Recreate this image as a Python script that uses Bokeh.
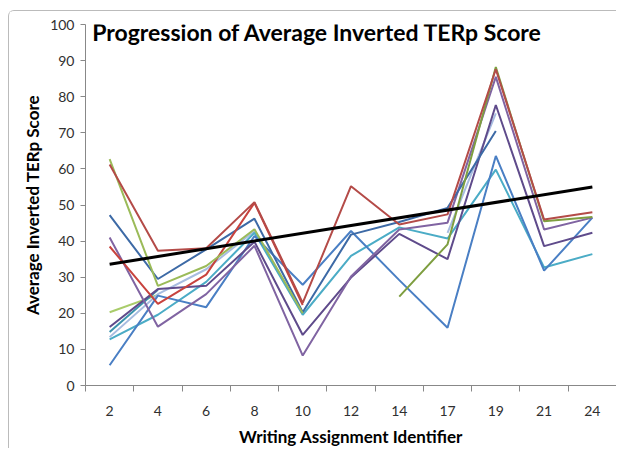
import math
from bokeh.plotting import figure
from bokeh.models import FixedTicker, Label, Range1d
from bokeh.embed import file_html
from bokeh.resources import INLINE

nan = float("nan")

categories = ["2", "4", "6", "8", "10", "12", "14", "17", "19", "21", "24"]

red_dark = [61.2, 37.3, 38.0, 50.8, 22.9, 55.2, 44.6, 47.4, 87.6, 46.0, 48.0]
red = [38.5, 22.6, 30.7, 50.6, 22.3, nan, nan, nan, nan, nan, nan]
green = [62.7, 27.6, 33.1, 43.3, 20.0, nan, nan, nan, nan, nan, nan]
olive = [nan, nan, nan, nan, nan, nan, 24.6, 39.1, 88.2, 45.5, 46.7]
light_green = [20.3, 25.1, nan, nan, nan, nan, nan, nan, nan, nan, nan]
steel = [47.2, 29.5, 37.7, 46.2, 20.3, 41.8, 45.3, 49.2, 70.5, nan, nan]
blue = [5.6, 24.9, 21.7, 41.4, 27.9, 42.8, 29.2, 16.0, 63.6, 31.8, 46.5]
purple = [41.0, 16.3, 25.3, 38.7, 8.3, 30.2, 43.2, 45.1, 85.5, 43.2, 46.5]
dark_purple = [16.2, 26.7, 27.6, 39.8, 14.0, 29.9, 42.0, 35.0, 77.7, 38.6, 42.3]
aqua = [12.8, 19.6, 28.7, 42.3, 19.6, 35.9, 43.8, 40.7, 59.8, 32.7, 36.4]
light_blue = [13.4, 25.3, 32.2, 42.8, 19.8, nan, nan, 42.3, 75.4, nan, nan]
teal = [14.8, 26.5, nan, nan, nan, nan, nan, nan, nan, nan, nan]

trend_start = 33.6
trend_end = 55.0

series = [
    (light_green, "#A9CC6A"),
    (teal, "#3A93AC"),
    (light_blue, "#A7BCE0"),
    (aqua, "#4BACC6"),
    (blue, "#4A7FC4"),
    (dark_purple, "#5F4B8B"),
    (purple, "#8064A2"),
    (steel, "#3D6AA6"),
    (red, "#C8433E"),
    (green, "#9BBB59"),
    (olive, "#7E9E40"),
    (red_dark, "#B44B48"),
]

xs = list(range(1, len(categories) + 1))

p = figure(width=608, height=438, output_backend="svg", toolbar_location=None,
           x_range=Range1d(0.5, len(categories) + 0.5), y_range=Range1d(0, 100),
           min_border_left=76, min_border_right=1, min_border_top=13, min_border_bottom=62)
p.outline_line_color = None
p.xgrid.visible = False
p.ygrid.visible = False
p.background_fill_color = "white"
p.border_fill_color = "white"

for vals, col in series:
    p.line(xs, vals, line_color=col, line_width=2)

p.line([xs[0], xs[-1]], [trend_start, trend_end], line_color="black", line_width=3)

axis_col = "#888888"
font = "Lato"

# x axis
xa = p.xaxis[0]
xa.ticker = FixedTicker(ticks=xs, minor_ticks=[x - 0.5 for x in xs] + [xs[-1] + 0.5])
xa.major_label_overrides = {x: c for x, c in zip(xs, categories)}
xa.major_tick_line_color = None
xa.major_tick_out = 0
xa.major_tick_in = 0
xa.minor_tick_line_color = axis_col
xa.minor_tick_out = 6
xa.minor_tick_in = 0
xa.axis_line_color = axis_col
xa.major_label_text_font = font
xa.major_label_text_font_size = "14px"
xa.major_label_text_color = "#303030"
xa.major_label_standoff = 14
xa.axis_label = "Writing Assignment Identifier"
xa.axis_label_text_font = font
xa.axis_label_text_font_style = "bold"
xa.axis_label_text_font_size = "17px"
xa.axis_label_text_color = "#000000"
xa.axis_label_standoff = 7

ya = p.yaxis[0]
ya.ticker = FixedTicker(ticks=list(range(0, 101, 10)))
ya.major_tick_line_color = axis_col
ya.major_tick_out = 5
ya.major_tick_in = 0
ya.minor_tick_line_color = None
ya.axis_line_color = axis_col
ya.major_label_text_font = font
ya.major_label_text_font_size = "14px"
ya.major_label_text_color = "#303030"
ya.major_label_standoff = 6
ya.axis_label = "Average Inverted TERp Score"
ya.axis_label_text_font = font
ya.axis_label_text_font_style = "bold"
ya.axis_label_text_font_size = "17px"
ya.axis_label_text_color = "#000000"
ya.axis_label_standoff = 4

title = Label(x=0.64, y=98.0, text="Progression of Average Inverted TERp Score",
              text_font=font, text_font_style="bold", text_font_size="23px",
              text_color="black", text_baseline="alphabetic", text_align="left")
p.add_layout(title)

p.styles = {"margin-left": "8px", "margin-top": "10px",
            "border-top": "1px solid #BBBBBB", "border-left": "1px solid #BBBBBB",
            "border-top-left-radius": "6px"}

open("out.html", "w").write(file_html(p, INLINE))
